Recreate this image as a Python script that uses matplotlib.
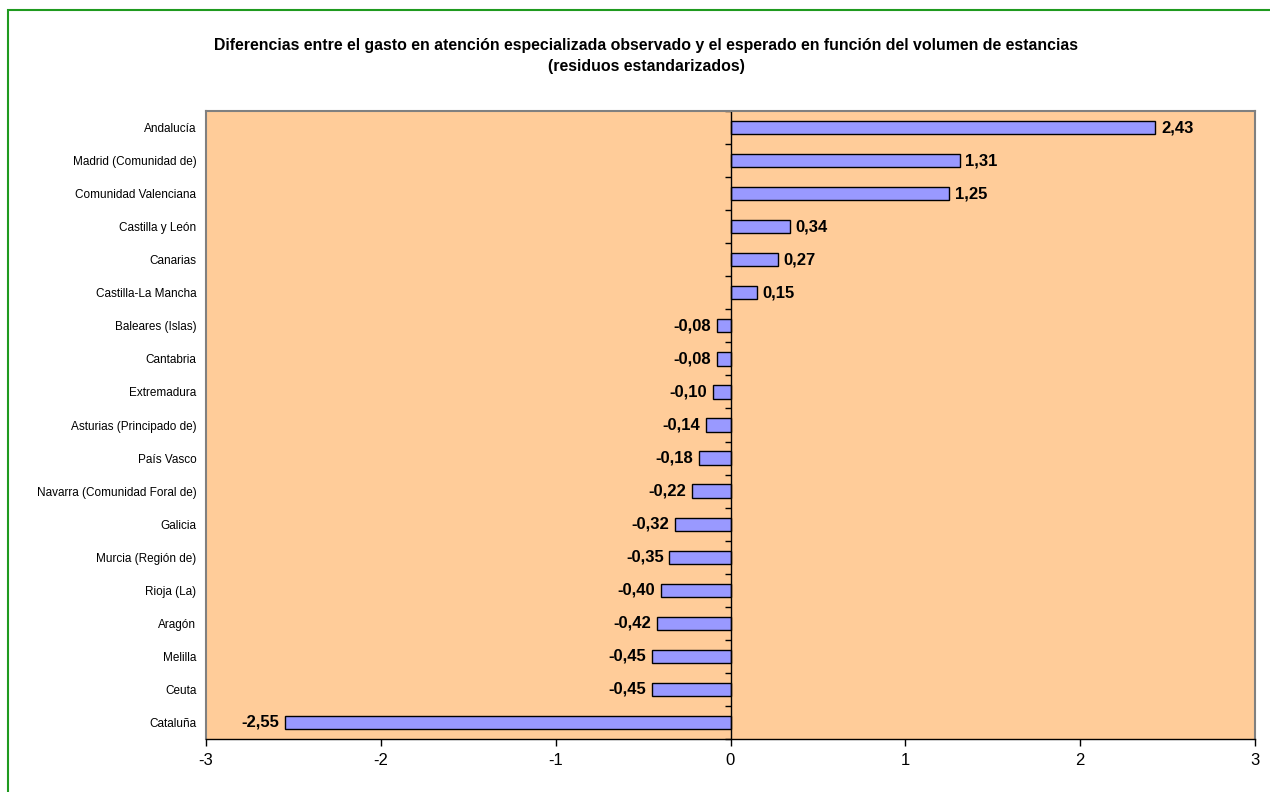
import matplotlib
matplotlib.use("Agg")
import matplotlib.pyplot as plt
from matplotlib.patches import Rectangle

regions = [
    "Andalucía", "Madrid (Comunidad de)", "Comunidad Valenciana", "Castilla y León",
    "Canarias", "Castilla-La Mancha", "Baleares (Islas)", "Cantabria", "Extremadura",
    "Asturias (Principado de)", "País Vasco", "Navarra (Comunidad Foral de)", "Galicia",
    "Murcia (Región de)", "Rioja (La)", "Aragón", "Melilla", "Ceuta", "Cataluña",
]
residuals = [2.43, 1.31, 1.25, 0.34, 0.27, 0.15, -0.08, -0.08, -0.10, -0.14,
             -0.18, -0.22, -0.32, -0.35, -0.40, -0.42, -0.45, -0.45, -2.55]
x_ticks = [-3, -2, -1, 0, 1, 2, 3]

title = ("Diferencias entre el gasto en atención especializada observado y el esperado "
         "en función del volumen de estancias\n(residuos estandarizados)")

plt.rcParams['font.family'] = ['Liberation Sans', 'DejaVu Sans']

W, H = 1270, 792
fig = plt.figure(figsize=(W / 100, H / 100), dpi=100)
fig.patch.set_facecolor("white")
fig.patches.append(Rectangle((8 / W, -0.05), 1.2, 1 - 10 / H + 0.05,
                             transform=fig.transFigure, fill=False,
                             edgecolor="#1f9a1f", lw=1.5))

ax = fig.add_axes([206 / W, 1 - 739 / H, (1255 - 206) / W, (739 - 111) / H])
ax.set_facecolor("#FFCC99")

n = len(regions)
ypos = list(range(n))
bars = ax.barh(ypos, residuals, height=0.4, color="#9999FF",
               edgecolor="black", linewidth=1)
labels = [f"{v:.2f}".replace(".", ",") for v in residuals]
ax.bar_label(bars, labels=labels, padding=4, fontsize=12, fontweight="bold")

ax.set_xlim(-3, 3)
ax.set_ylim(n - 0.5, -0.5)
ax.set_xticks(x_ticks)
ax.set_xticklabels([str(t) for t in x_ticks], fontsize=12)
ax.tick_params(axis="x", direction="out", length=5, width=1, pad=5)
ax.set_yticks(ypos)
ax.set_yticklabels(regions, fontsize=8.5)
ax.tick_params(axis="y", length=0, pad=7)

# zero axis with category separators
ax.axvline(0, color="black", lw=1)
bounds = [i - 0.5 for i in range(n + 1)]
ax.plot([0] * len(bounds), bounds, ls="none", marker=0, markersize=4,
        color="black", mew=1, clip_on=False)

for side in ["left", "top", "right"]:
    ax.spines[side].set_color("#808080")
    ax.spines[side].set_linewidth(1.5)
ax.spines["bottom"].set_color("black")
ax.spines["bottom"].set_linewidth(1)

fig.text(646 / W, 1 - 56 / H, title, ha="center", va="center", fontsize=11.4,
         fontweight="bold", linespacing=1.55)

fig.savefig("out.png", dpi=100)
